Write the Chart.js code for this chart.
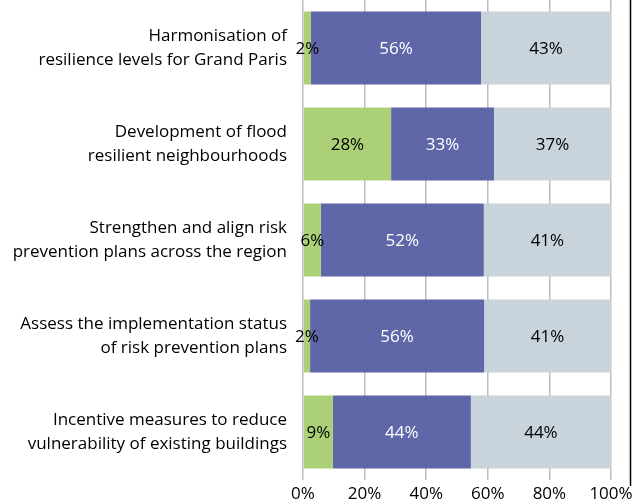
<!DOCTYPE html>
<html>
<head>
<meta charset="utf-8">
<script src="https://cdn.jsdelivr.net/npm/chart.js@4"></script>
<style>
  html, body { margin: 0; padding: 0; background: #fff; }
  #wrap { width: 633px; height: 503px; }
</style>
</head>
<body>
<div id="wrap"><canvas id="chart" width="633" height="503"></canvas></div>
<script>
// categories (two-line labels)
const categories = [
    ['Harmonisation of', 'resilience levels for Grand Paris'],
    ['Development of flood', 'resilient neighbourhoods'],
    ['Strengthen and align risk', 'prevention plans across the region'],
    ['Assess the implementation status', 'of risk prevention plans'],
    ['Incentive measures to reduce', 'vulnerability of existing buildings']
];

// bar lengths (share of 100%)
const greenValues = [2.6, 28.6, 5.8, 2.3, 9.7];
const blueValues = [55.2, 33.4, 52.9, 56.5, 44.8];
const greyValues = [42.2, 38.0, 41.3, 41.2, 45.5];

// printed labels
const greenLabels = ['2%', '28%', '6%', '2%', '9%'];
const blueLabels = ['56%', '33%', '52%', '56%', '44%'];
const greyLabels = ['43%', '37%', '41%', '41%', '44%'];

const xTicks = [0, 20, 40, 60, 80, 100];

const FONT = '"Open Sans", "Noto Sans", sans-serif';

// draw the value labels inside each bar
const barLabels = {
    id: 'barLabels',
    afterDatasetsDraw(chart) {
        const ctx = chart.ctx;
        ctx.save();
        ctx.font = '17px ' + FONT;
        ctx.textAlign = 'center';
        ctx.textBaseline = 'middle';
        chart.data.datasets.forEach((ds, i) => {
            const meta = chart.getDatasetMeta(i);
            meta.data.forEach((bar, j) => {
                const cx = (bar.x + bar.base) / 2;
                ctx.fillStyle = ds.labelColor;
                ctx.fillText(ds.valueLabels[j], cx, bar.y + 1);
            });
        });
        ctx.restore();
    }
};

// thin black line on the right edge of the figure
const edgeLine = {
    id: 'edgeLine',
    afterDraw(chart) {
        const ctx = chart.ctx;
        ctx.save();
        ctx.strokeStyle = '#000';
        ctx.lineWidth = 1.5;
        ctx.beginPath();
        ctx.moveTo(630.5, 0);
        ctx.lineTo(630.5, 486);
        ctx.stroke();
        ctx.restore();
    }
};

const data = {
    labels: categories,
    datasets: [
        {
            data: greenValues,
            valueLabels: greenLabels,
            labelColor: '#000',
            backgroundColor: '#acd078'
        },
        {
            data: blueValues,
            valueLabels: blueLabels,
            labelColor: '#fff',
            backgroundColor: '#5f67a9'
        },
        {
            data: greyValues,
            valueLabels: greyLabels,
            labelColor: '#000',
            backgroundColor: '#c9d3db'
        }
    ]
};

const config = {
    type: 'bar',
    data: data,
    plugins: [barLabels, edgeLine],
    options: {
        indexAxis: 'y',
        responsive: false,
        animation: false,
        layout: {
            padding: { left: 0, right: 22, top: 0, bottom: 0 }
        },
        datasets: {
            bar: {
                barPercentage: 0.76,
                categoryPercentage: 1.0,
                borderWidth: 0
            }
        },
        plugins: {
            legend: { display: false },
            tooltip: { enabled: false },
            title: { display: false }
        },
        scales: {
            x: {
                stacked: true,
                min: 0,
                max: 100,
                afterBuildTicks: (scale) => {
                    scale.ticks = xTicks.map(v => ({ value: v }));
                },
                afterFit: (scale) => {
                    scale.height = 23;
                    scale.paddingLeft = 0;
                    scale.paddingRight = 0;
                },
                ticks: {
                    color: '#000',
                    padding: 4,
                    font: { family: FONT, size: 17 },
                    callback: (v) => v + '%'
                },
                grid: {
                    color: '#bdbdbd',
                    lineWidth: 1.5,
                    drawTicks: false
                },
                border: { display: false }
            },
            y: {
                stacked: true,
                afterFit: (scale) => {
                    scale.width = 303;
                    scale.paddingTop = 0;
                    scale.paddingBottom = 0;
                },
                ticks: {
                    color: '#000',
                    padding: 16,
                    font: { family: FONT, size: 17, lineHeight: 1.42 }
                },
                grid: { display: false, drawTicks: false },
                border: { display: false }
            }
        }
    }
};

new Chart(document.getElementById('chart').getContext('2d'), config);
</script>
</body>
</html>
